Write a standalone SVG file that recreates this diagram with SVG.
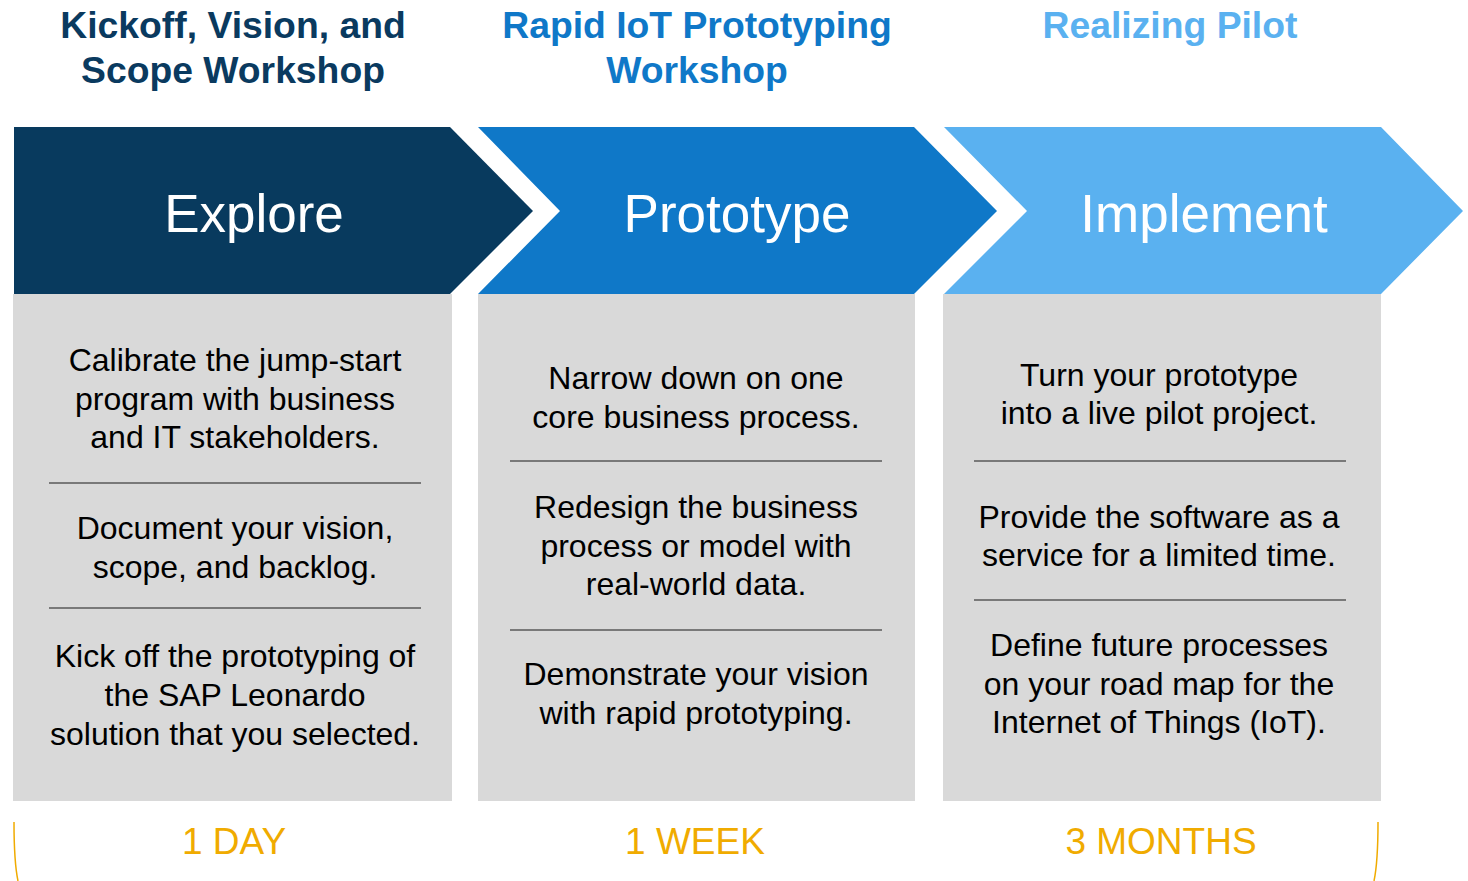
<svg xmlns="http://www.w3.org/2000/svg" width="1468" height="881" viewBox="0 0 1468 881">
<style>
.hd{font-family:"Liberation Sans",Arial,sans-serif;font-weight:bold;font-size:37.3px;text-anchor:middle}
.cv{font-family:"Liberation Sans",Arial,sans-serif;font-size:53px;fill:#fff;text-anchor:middle}
.bd{font-family:"Liberation Sans",Arial,sans-serif;font-size:32px;fill:#000;text-anchor:middle}
.du{font-family:"Liberation Sans",Arial,sans-serif;font-size:37px;fill:#F0AB00;text-anchor:middle}
.box{fill:#D9D9D9}
.sep{stroke:#595959;stroke-width:1.3}
.br{fill:none;stroke:#F0AB00;stroke-width:1.5}
</style>
<rect width="1468" height="881" fill="#fff"/>
<g id="explore">
<text class="hd" fill="#0A3A5F" x="233" y="38">Kickoff, Vision, and</text>
<text class="hd" fill="#0A3A5F" x="233" y="83">Scope Workshop</text>
<polygon points="14,127 450,127 533,211 450,294 14,294" fill="#083A5E"/>
<text class="cv" x="254" y="232">Explore</text>
<rect class="box" x="13" y="294" width="439" height="507"/>
<text class="bd" x="235" y="371">Calibrate the jump-start</text>
<text class="bd" x="235" y="410">program with business</text>
<text class="bd" x="235" y="448">and IT stakeholders.</text>
<line class="sep" x1="49" y1="483" x2="421" y2="483"/>
<text class="bd" x="235" y="539">Document your vision,</text>
<text class="bd" x="235" y="578">scope, and backlog.</text>
<line class="sep" x1="49" y1="608" x2="421" y2="608"/>
<text class="bd" x="235" y="667">Kick off the prototyping of</text>
<text class="bd" x="235" y="706">the SAP Leonardo</text>
<text class="bd" x="235" y="745">solution that you selected.</text>
<text class="du" x="234" y="854">1 DAY</text>
</g>
<g id="prototype">
<text class="hd" fill="#0F78C8" x="697" y="38">Rapid IoT Prototyping</text>
<text class="hd" fill="#0F78C8" x="697" y="83">Workshop</text>
<polygon points="478,127 914,127 997,211 914,294 478,294 560,211" fill="#0F78C8"/>
<text class="cv" x="737" y="232">Prototype</text>
<rect class="box" x="478" y="294" width="437" height="507"/>
<text class="bd" x="696" y="389">Narrow down on one</text>
<text class="bd" x="696" y="428">core business process.</text>
<line class="sep" x1="510" y1="461" x2="882" y2="461"/>
<text class="bd" x="696" y="518">Redesign the business</text>
<text class="bd" x="696" y="557">process or model with</text>
<text class="bd" x="696" y="595">real-world data.</text>
<line class="sep" x1="510" y1="630" x2="882" y2="630"/>
<text class="bd" x="696" y="685">Demonstrate your vision</text>
<text class="bd" x="696" y="724">with rapid prototyping.</text>
<text class="du" x="695" y="854">1 WEEK</text>
</g>
<g id="implement">
<text class="hd" fill="#5AB1F0" x="1170" y="38">Realizing Pilot</text>
<polygon points="944,127 1381,127 1463,211 1381,294 944,294 1027,211" fill="#5AB1F0"/>
<text class="cv" x="1204" y="232">Implement</text>
<rect class="box" x="943" y="294" width="438" height="507"/>
<text class="bd" x="1159" y="386">Turn your prototype</text>
<text class="bd" x="1159" y="424">into a live pilot project.</text>
<line class="sep" x1="974" y1="461" x2="1346" y2="461"/>
<text class="bd" x="1159" y="528">Provide the software as a</text>
<text class="bd" x="1159" y="566">service for a limited time.</text>
<line class="sep" x1="974" y1="600" x2="1346" y2="600"/>
<text class="bd" x="1159" y="656">Define future processes</text>
<text class="bd" x="1159" y="695">on your road map for the</text>
<text class="bd" x="1159" y="733">Internet of Things (IoT).</text>
<text class="du" x="1161" y="854">3 MONTHS</text>
</g>
<g id="connectors">
<path class="br" d="M14,822 Q14,862 18,881"/>
<path class="br" d="M1378,822 Q1378,862 1374,881"/>
</g>
</svg>
